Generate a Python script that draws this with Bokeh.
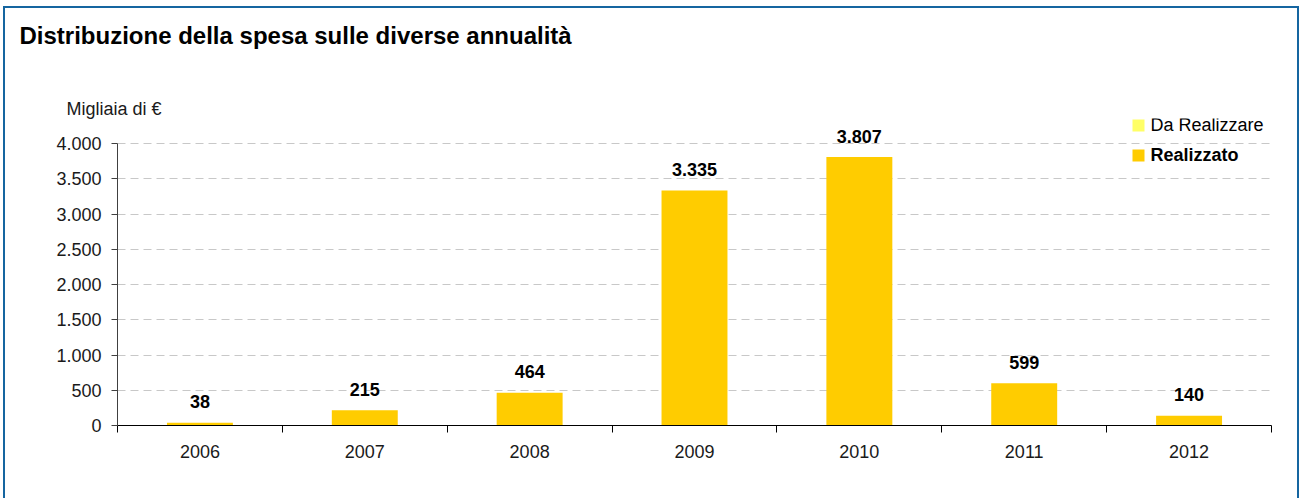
from bokeh.plotting import figure
from bokeh.models import Range1d, FixedTicker, Label, ColumnDataSource, Title
from bokeh.core.properties import value
from bokeh.embed import file_html
from bokeh.resources import INLINE

# ---- data ----
years = ["2006", "2007", "2008", "2009", "2010", "2011", "2012"]
realizzato = [38, 215, 464, 3335, 3807, 599, 140]
da_realizzare = [0, 0, 0, 0, 0, 0, 0]
y_ticks = [0, 500, 1000, 1500, 2000, 2500, 3000, 3500, 4000]
title_text = "Distribuzione della spesa sulle diverse annualità"
unit_text = "Migliaia di €"
legend_labels = ["Da Realizzare", "Realizzato"]

FONT = "Liberation Sans"
GOLD = "#FFCC00"
LIGHT = "#FFFF66"
BLUE = "#1565A0"

# ---- layout (page pixels) ----
OX, OY = 5, 8          # canvas origin in page coordinates
W, H = 1296, 492
FL, FR, FB, FT4000 = 117, 1271, 425, 143   # frame left/right, y=0, y=4000 (page px)
FTOP = 118                                  # frame top (page px)
n = len(years)
ppx = (FR - FL) / n
ppy = (FB - FT4000) / 4000.0
ymax = (FB - FTOP) / ppy


def dx(px):
    return (px - FL) / ppx


def dy(py):
    return (FB - py) / ppy


p = figure(width=W, height=H, output_backend="svg", toolbar_location=None,
           x_range=Range1d(0, n), y_range=Range1d(0, ymax),
           min_border_left=FL - OX, min_border_right=OX + W - FR,
           min_border_top=FTOP - OY, min_border_bottom=OY + H - FB,
           styles={"margin-left": "3px", "margin-top": "6px",
                   "border-left": f"2px solid {BLUE}",
                   "border-top": f"2px solid {BLUE}",
                   "border-right": f"2px solid {BLUE}"})
p.outline_line_color = None
p.background_fill_color = "white"
p.border_fill_color = "white"

# titles (unit label nearest the frame, then a blank spacer, then main title)
p.title.text = title_text
p.title.align = "left"
p.title.offset = 19 - FL
p.title.text_font = FONT
p.title.text_font_size = "24px"
p.title.text_font_style = "bold"
p.title.text_color = "#000000"
p.title.standoff = 0
p.add_layout(Title(text=unit_text, align="left", offset=66 - FL, text_font=FONT,
                   text_font_size="18px", text_font_style="normal",
                   text_color="#1a1a1a", standoff=0), "above")
p.add_layout(Title(text=" ", align="left", text_font=FONT,
                   text_font_size="10px", standoff=35), "above")

centers = [i + 0.5 for i in range(n)]
src = ColumnDataSource(dict(x=centers, top=realizzato,
                            lab=[f"{v:,}".replace(",", ".") for v in realizzato]))
p.vbar(x="x", top="top", width=0.4, source=src, fill_color=GOLD, line_color=None)
p.text(x="x", y="top", text="lab", source=src, y_offset=-21,
       text_align="center", text_baseline="alphabetic",
       text_font=value(FONT), text_font_size="18px", text_font_style="bold",
       text_color="#000000")

# y axis
ya = p.yaxis[0]
ya.ticker = FixedTicker(ticks=y_ticks)
ya.major_label_overrides = {t: f"{t:,}".replace(",", ".") for t in y_ticks}
ya.bounds = (0, 4000)
ya.axis_line_color = "#404040"
ya.major_tick_line_color = "#404040"
ya.major_tick_out = 6
ya.major_tick_in = 0
ya.minor_tick_line_color = None
ya.major_label_standoff = 10
ya.major_label_text_font = FONT
ya.major_label_text_font_size = "18px"
ya.major_label_text_color = "#1a1a1a"

# x axis
xa = p.xaxis[0]
xa.ticker = FixedTicker(ticks=centers, minor_ticks=list(range(n + 1)))
xa.major_label_overrides = {c: y for c, y in zip(centers, years)}
xa.bounds = (0, n)
xa.axis_line_color = "#000000"
xa.major_tick_line_color = None
xa.minor_tick_line_color = "#000000"
xa.minor_tick_out = 7
xa.minor_tick_in = 0
xa.major_label_standoff = 12
xa.major_label_text_font = FONT
xa.major_label_text_font_size = "18px"
xa.major_label_text_color = "#1a1a1a"

p.xgrid.grid_line_color = None
p.ygrid.grid_line_color = "#C8C8C8"
p.ygrid.grid_line_dash = "8 5"
p.ygrid.grid_line_width = 1

# legend
leg_y = [125, 155]
leg_cols = [LIGHT, GOLD]
leg_styles = ["normal", "bold"]
p.scatter(x=[dx(1138)] * 2, y=[dy(v) for v in leg_y], marker="square", size=12,
          fill_color=leg_cols, line_color=None)
for lab, yy, st in zip(legend_labels, leg_y, leg_styles):
    p.add_layout(Label(x=dx(1150), y=dy(yy - 1), text=lab, text_align="left",
                       text_baseline="middle", text_font=FONT, text_font_size="18px",
                       text_font_style=st, text_color="#000000"))

open("out.html", "w").write(file_html(p, INLINE))
